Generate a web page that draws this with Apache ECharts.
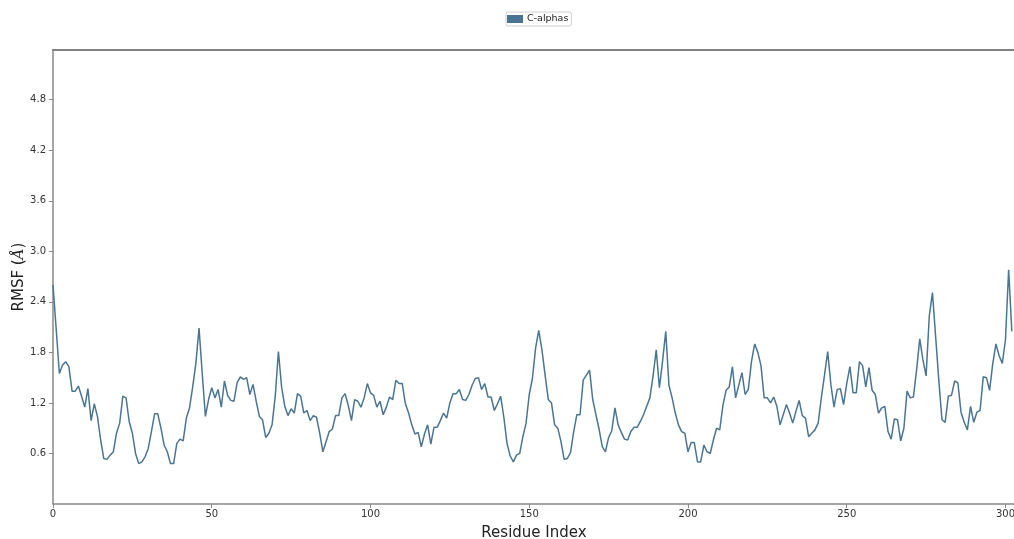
<!DOCTYPE html>
<html>
<head>
<meta charset="utf-8">
<script src="https://cdn.jsdelivr.net/npm/echarts@6/dist/echarts.min.js"></script>
<style>
html,body{margin:0;padding:0;background:#fff;}
#chart{width:1014px;height:539px;}
</style>
</head>
<body>
<div id="chart"></div>
<script>
// Residue RMSF values (C-alpha), residues 0..302
const rmsf = [
2.60,2.08,1.55,1.65,1.69,1.63,1.34,1.34,1.40,1.28,
1.15,1.37,0.99,1.19,1.04,0.76,0.54,0.53,0.58,0.62,
0.84,0.96,1.28,1.26,0.98,0.84,0.60,0.48,0.50,0.56,
0.66,0.86,1.07,1.07,0.90,0.70,0.62,0.48,0.48,0.72,
0.77,0.75,1.02,1.14,1.39,1.67,2.09,1.55,1.04,1.24,
1.38,1.26,1.36,1.15,1.46,1.29,1.23,1.22,1.44,1.51,
1.48,1.50,1.30,1.42,1.22,1.04,1.00,0.79,0.84,0.94,
1.28,1.81,1.39,1.16,1.05,1.13,1.08,1.31,1.28,1.08,
1.11,0.99,1.05,1.03,0.84,0.62,0.74,0.86,0.89,1.05,
1.05,1.26,1.31,1.17,0.99,1.24,1.22,1.15,1.26,1.43,
1.32,1.29,1.15,1.22,1.06,1.15,1.27,1.24,1.47,1.43,
1.43,1.19,1.08,0.94,0.83,0.85,0.68,0.83,0.94,0.71,
0.91,0.91,0.99,1.08,1.02,1.20,1.31,1.31,1.36,1.24,
1.23,1.30,1.41,1.49,1.50,1.36,1.43,1.27,1.27,1.11,
1.19,1.28,1.03,0.72,0.57,0.50,0.58,0.60,0.80,0.96,
1.30,1.49,1.85,2.06,1.83,1.53,1.24,1.20,0.94,0.90,
0.74,0.53,0.54,0.61,0.86,1.06,1.06,1.47,1.53,1.59,
1.24,1.06,0.89,0.68,0.62,0.79,0.87,1.14,0.94,0.85,
0.77,0.76,0.86,0.91,0.91,0.98,1.06,1.16,1.26,1.52,
1.83,1.38,1.70,2.05,1.41,1.26,1.08,0.94,0.86,0.84,
0.62,0.73,0.73,0.50,0.50,0.70,0.62,0.60,0.76,0.90,
0.88,1.17,1.35,1.39,1.63,1.26,1.41,1.56,1.30,1.36,
1.69,1.90,1.80,1.64,1.26,1.26,1.20,1.27,1.16,0.94,
1.06,1.18,1.08,0.96,1.10,1.23,1.05,1.02,0.80,0.84,
0.88,0.96,1.26,1.53,1.81,1.42,1.15,1.36,1.37,1.18,
1.43,1.63,1.32,1.32,1.69,1.64,1.39,1.62,1.35,1.30,
1.08,1.14,1.16,0.86,0.77,1.01,1.00,0.75,0.90,1.34,
1.26,1.27,1.59,1.96,1.71,1.52,2.23,2.51,1.99,1.47,
1.00,0.97,1.28,1.29,1.46,1.44,1.09,0.97,0.88,1.16,
0.97,1.09,1.11,1.51,1.50,1.35,1.67,1.90,1.76,1.67,
1.95,2.78,2.05
];
const residues = rmsf.map((v, i) => i);
const seriesName = 'C-alphas';
const xTickStep = 50;
const yTickStep = 0.6;

const chart = echarts.init(document.getElementById('chart'), null, {renderer: 'canvas'});
const axisGray = '#888888';
const lineColor = '#4a7592';
chart.setOption({
  animation: false,
  backgroundColor: '#ffffff',
  legend: {
    data: [{name: seriesName, icon: 'rect'}],
    top: 12,
    left: 506,
    itemWidth: 16,
    itemHeight: 8,
    itemGap: 0,
    padding: [2, 3, 2, 1],
    borderColor: '#d0d0d0',
    borderWidth: 1,
    borderRadius: 2,
    textStyle: {fontFamily: 'DejaVu Sans', fontSize: 9.5, color: '#222', padding: [0, 0, 0, -1]}
  },
  grid: {left: 53, right: -1, top: 50, bottom: 35, containLabel: false, outerBoundsMode: 'none'},
  xAxis: [{
    type: 'value',
    min: 0,
    max: 303,
    interval: xTickStep,
    name: 'Residue Index',
    nameLocation: 'middle',
    nameGap: 22,
    nameMoveOverlap: false,
    nameTextStyle: {fontFamily: 'DejaVu Sans', fontSize: 15, color: '#222'},
    axisLine: {show: true, lineStyle: {color: axisGray, width: 1.5}},
    axisTick: {show: true, length: 4, lineStyle: {color: axisGray}},
    axisLabel: {fontFamily: 'DejaVu Sans', fontSize: 10, color: '#333', margin: 5, showMaxLabel: false},
    splitLine: {show: false}
  }, {
    type: 'value',
    position: 'top',
    min: 0,
    max: 303,
    axisLine: {show: true, onZero: false, lineStyle: {color: '#808080', width: 2}},
    axisTick: {show: false},
    axisLabel: {show: false},
    splitLine: {show: false}
  }],
  yAxis: {
    type: 'value',
    min: 0,
    max: 5.39,
    interval: yTickStep,
    name: '{t|RMSF (}{i|Å}{t|)}',
    nameLocation: 'middle',
    nameGap: 26,
    nameMoveOverlap: false,
    nameRotate: 90,
    nameTextStyle: {
      rich: {
        t: {fontFamily: 'DejaVu Sans', fontSize: 15, color: '#222'},
        i: {fontFamily: 'DejaVu Serif', fontStyle: 'italic', fontSize: 15, color: '#222'}
      }
    },
    axisLine: {show: true, lineStyle: {color: axisGray, width: 1.5}},
    axisTick: {show: true, length: 4, lineStyle: {color: axisGray}},
    axisLabel: {
      fontFamily: 'DejaVu Sans', fontSize: 10, color: '#333', margin: 7,
      showMinLabel: false, showMaxLabel: false,
      formatter: v => v.toFixed(1)
    },
    splitLine: {show: false}
  },
  series: [{
    name: seriesName,
    type: 'line',
    xAxisIndex: 0,
    data: residues.map((r, i) => [r, rmsf[i]]),
    showSymbol: false,
    symbol: 'none',
    lineStyle: {color: lineColor, width: 1.5},
    itemStyle: {color: lineColor}
  }]
});
</script>
</body>
</html>
